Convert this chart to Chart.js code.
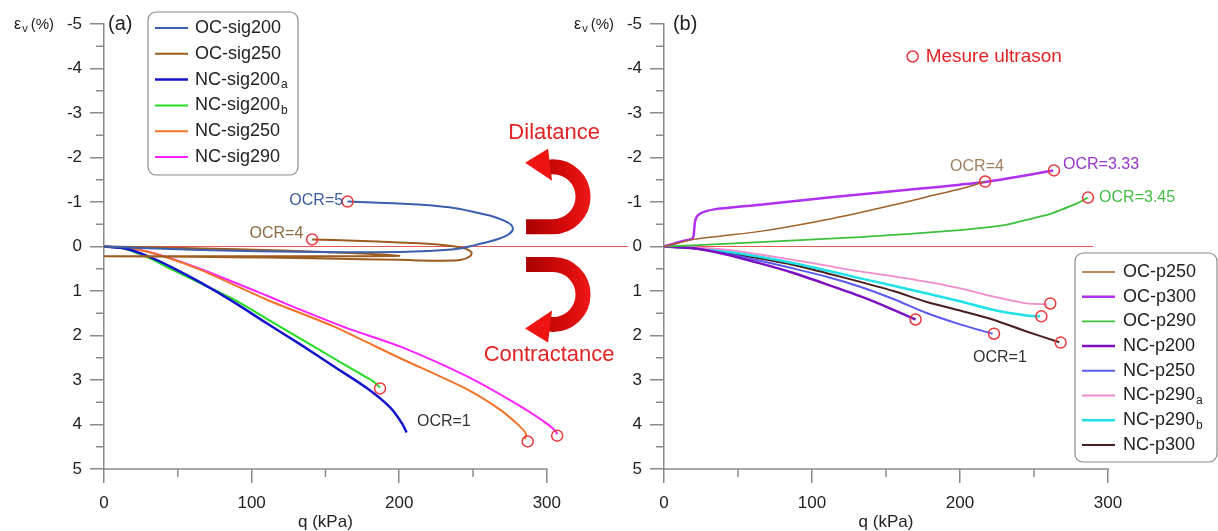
<!DOCTYPE html>
<html>
<head>
<meta charset="utf-8">
<script src="https://cdn.jsdelivr.net/npm/chart.js@4.4.1/dist/chart.umd.min.js"></script>
<style>
  html, body { margin: 0; padding: 0; background: #fff; }
  #wrap { position: relative; width: 1218px; height: 531px; overflow: hidden; }
  canvas { position: absolute; top: 0; }
  #chartA { left: 0; }
  #chartB { left: 560px; }
</style>
</head>
<body>
<div id="wrap">
  <canvas id="chartA" width="660" height="531"></canvas>
  <canvas id="chartB" width="658" height="531"></canvas>
</div>
<script>
// axes
const qTicks = [0, 100, 200, 300];
const qMinor = [50, 150, 250];
const epsTicks = [-5, -4, -3, -2, -1, 0, 1, 2, 3, 4, 5];
const epsMinor = [-4.5, -3.5, -2.5, -1.5, -0.5, 0.5, 1.5, 2.5, 3.5, 4.5];

// panel (a) : [q (kPa), eps_v (%)]
const labelsA = ['OC-sig200', 'OC-sig250', 'NC-sig200_a', 'NC-sig200_b', 'NC-sig250', 'NC-sig290'];
const ocSig200 = [[0,0],[40,0.05],[80,0.09],[130,0.12],[180,0.13],[220,0.1],[240,0.05],[250,-0.02],[260,-0.1],[268,-0.18],[274,-0.27],[277,-0.38],[276,-0.48],[271,-0.58],[264,-0.67],[250,-0.78],[234,-0.88],[215,-0.94],[190,-0.98],[165,-1.01]];
const ocSig250 = [[0,0],[60,0.04],[120,0.09],[170,0.15],[200,0.21],[150,0.22],[80,0.22],[0,0.22],[60,0.23],[110,0.25],[150,0.27],[200,0.3],[230,0.32],[242,0.3],[248,0.22],[249,0.13],[244,0.04],[228,-0.04],[200,-0.09],[170,-0.13],[141,-0.16]];
const ncSig200a = [[0,0],[15,0.05],[30,0.22],[45,0.45],[65,0.8],[88,1.25],[110,1.72],[133,2.2],[155,2.68],[178,3.18],[194,3.62],[202,3.98],[205,4.18]];
const ncSig200b = [[0,0],[15,0.06],[30,0.25],[45,0.5],[65,0.82],[88,1.19],[110,1.62],[133,2.07],[155,2.5],[172,2.83],[182,3.02],[187,3.17]];
const ncSig250 = [[0,0],[20,0.05],[40,0.22],[65,0.52],[110,1.19],[155,1.79],[200,2.5],[246,3.21],[268,3.66],[281,4.02],[286,4.22],[285,4.33]];
const ncSig290 = [[0,0],[20,0.05],[40,0.21],[65,0.5],[110,1.1],[133,1.42],[165,1.84],[200,2.24],[246,2.92],[280,3.55],[300,3.98],[306,4.15],[307,4.22]];
const zeroA = [[0,0],[355,0]];
const ultraA = [[165,-1.01],[141,-0.16],[187,3.19],[287,4.38],[307,4.25]];

// panel (b)
const labelsB = ['OC-p250', 'OC-p300', 'OC-p290', 'NC-p200', 'NC-p250', 'NC-p290_a', 'NC-p290_b', 'NC-p300'];
const ocP250 = [[0,0],[10,-0.08],[20,-0.16],[40,-0.24],[65,-0.34],[100,-0.54],[132,-0.76],[160,-0.97],[178,-1.12],[200,-1.29],[217,-1.46]];
const ocP300 = [[0,0],[8,-0.08],[15,-0.14],[19,-0.17],[20,-0.24],[20.5,-0.42],[21,-0.56],[22,-0.66],[24,-0.73],[28,-0.79],[35,-0.84],[65,-0.94],[100,-1.06],[132,-1.17],[170,-1.29],[200,-1.39],[217,-1.45],[245,-1.6],[263,-1.71]];
const ocP290 = [[0,0],[30,-0.04],[65,-0.1],[132,-0.21],[200,-0.37],[230,-0.48],[245,-0.6],[260,-0.72],[268,-0.82],[279,-0.97],[286.5,-1.1]];
const ncP200 = [[0,0],[20,0.04],[42,0.18],[65,0.38],[87,0.59],[110,0.85],[132,1.11],[150,1.35],[170,1.64]];
const ncP250 = [[0,0],[20,0.04],[42,0.16],[65,0.32],[87,0.49],[110,0.68],[132,0.9],[155,1.18],[177,1.49],[200,1.75],[222,1.96]];
const ncP290a = [[0,0],[20,0.02],[42,0.07],[65,0.18],[87,0.3],[110,0.43],[132,0.56],[155,0.67],[177,0.79],[200,0.94],[222,1.12],[245,1.28],[259,1.3]];
const ncP290b = [[0,0],[20,0.03],[42,0.11],[65,0.23],[87,0.37],[110,0.54],[132,0.71],[155,0.88],[177,1.05],[200,1.23],[222,1.42],[245,1.55],[254,1.57]];
const ncP300 = [[0,0],[20,0.04],[42,0.14],[65,0.27],[87,0.41],[110,0.6],[132,0.79],[155,1.0],[177,1.24],[200,1.44],[222,1.64],[245,1.91],[267,2.15]];
const zeroB = [[0,0],[290,0]];
const ultraB = [[217,-1.46],[263.5,-1.71],[286.5,-1.1],[261,1.28],[255,1.57],[223,1.96],[268,2.16],[170,1.64]];

const FONT = "Arial, 'Liberation Sans', sans-serif";
const AXIS_COLOR = '#8a8a8a';
Chart.defaults.font.family = FONT;

function pts(arr) { return arr.map(p => ({ x: p[0], y: p[1] })); }

function curve(label, arr, color, width) {
  return {
    label: label, data: pts(arr), inLegend: true,
    borderColor: color, backgroundColor: color, borderWidth: width,
    showLine: true, pointRadius: 0, tension: 0.25, clip: false, order: 1
  };
}
function zeroLine(arr) {
  return { label: 'zero', data: pts(arr), borderColor: '#f05555', borderWidth: 1,
    showLine: true, pointRadius: 0, clip: false, order: 10 };
}
function markers(arr) {
  return { label: 'Mesure ultrason', data: pts(arr), showLine: false, pointStyle: 'circle',
    pointRadius: 5.5, pointBorderWidth: 1.5, pointBorderColor: '#e8383c',
    pointBackgroundColor: 'rgba(0,0,0,0)', clip: false, order: -1 };
}

function drawArrow(ctx, cx, cy, r, w, dir) {
  ctx.save();
  ctx.translate(cx, cy);
  ctx.scale(1, dir);
  const g = ctx.createLinearGradient(-28, 0, r + w / 2, 0);
  g.addColorStop(0, '#a80000');
  g.addColorStop(0.6, '#d40a0a');
  g.addColorStop(1, '#f01818');
  ctx.strokeStyle = g;
  ctx.lineWidth = w;
  ctx.lineCap = 'butt';
  ctx.beginPath();
  ctx.moveTo(-27, r);
  ctx.lineTo(0, r);
  ctx.arc(0, 0, r, Math.PI / 2, -Math.PI / 2, true);
  ctx.lineTo(-6, -r + 1);
  ctx.stroke();
  ctx.fillStyle = '#ee1414';
  ctx.beginPath();
  ctx.moveTo(-28, -r - 4);
  ctx.lineTo(-5, -r - 18);
  ctx.lineTo(-1, -r + 14);
  ctx.closePath();
  ctx.fill();
  ctx.restore();
}

const decorPlugin = {
  id: 'decor',
  afterDraw(chart, args, o) {
    const ctx = chart.ctx, xs = chart.scales.x, ys = chart.scales.y;
    const X = v => xs.getPixelForValue(v), Y = v => ys.getPixelForValue(v);
    const qEnd = qTicks[qTicks.length - 1];
    ctx.save();

    // x axis line (stops at the last tick) and minor ticks
    ctx.strokeStyle = AXIS_COLOR;
    ctx.lineWidth = 1.5;
    ctx.beginPath(); ctx.moveTo(X(0), ys.bottom); ctx.lineTo(X(qEnd) + 0.75, ys.bottom); ctx.stroke();
    qMinor.forEach(v => {
      ctx.beginPath(); ctx.moveTo(X(v), ys.bottom); ctx.lineTo(X(v), ys.bottom + 8); ctx.stroke();
    });
    epsMinor.forEach(v => {
      ctx.beginPath(); ctx.moveTo(xs.left, Y(v)); ctx.lineTo(xs.left - 8, Y(v)); ctx.stroke();
    });

    // x title
    ctx.fillStyle = '#222';
    ctx.textBaseline = 'middle';
    ctx.textAlign = 'center';
    ctx.font = '17px ' + FONT;
    ctx.fillText('q (kPa)', X(qEnd / 2), 522);

    // y title  eps_v (%)
    ctx.textAlign = 'left';
    let tx = 14, ty = Y(-5) + 1;
    ctx.font = '16px ' + FONT;
    ctx.fillText('ε', tx, ty);
    tx += ctx.measureText('ε').width + 1;
    ctx.font = '11px ' + FONT;
    ctx.fillText('v', tx, ty + 4);
    tx += ctx.measureText('v').width + 3;
    ctx.font = '15px ' + FONT;
    ctx.fillText('(%)', tx, ty);

    // text annotations
    (o.texts || []).forEach(t => {
      ctx.font = (t.size || 16) + 'px ' + FONT;
      ctx.fillStyle = t.color;
      ctx.textAlign = t.align || 'left';
      ctx.fillText(t.text, X(t.q), Y(t.e));
    });

    // curved arrows
    (o.arrows || []).forEach(a => drawArrow(ctx, X(a.q), Y(a.e), a.r, a.w, a.dir));

    // ultrasound legend item
    if (o.ultraKey) {
      const k = o.ultraKey;
      ctx.strokeStyle = '#e8383c'; ctx.lineWidth = 1.5;
      ctx.beginPath(); ctx.arc(X(k.q), Y(k.e), 5.5, 0, Math.PI * 2); ctx.stroke();
      ctx.font = '19px ' + FONT; ctx.fillStyle = '#e32222'; ctx.textAlign = 'left';
      ctx.fillText(k.text, X(k.q) + 13, Y(k.e));
    }

    // legend box
    const L = o.legend;
    if (L) {
      const r = 8;
      ctx.beginPath();
      ctx.moveTo(L.x + r, L.y);
      ctx.arcTo(L.x + L.w, L.y, L.x + L.w, L.y + L.h, r);
      ctx.arcTo(L.x + L.w, L.y + L.h, L.x, L.y + L.h, r);
      ctx.arcTo(L.x, L.y + L.h, L.x, L.y, r);
      ctx.arcTo(L.x, L.y, L.x + L.w, L.y, r);
      ctx.closePath();
      ctx.fillStyle = '#fff'; ctx.fill();
      ctx.strokeStyle = AXIS_COLOR; ctx.lineWidth = 1.2; ctx.stroke();
      chart.data.datasets.filter(d => d.inLegend).forEach((d, i) => {
        const yy = L.row0 + i * L.step;
        ctx.strokeStyle = d.borderColor; ctx.lineWidth = d.borderWidth;
        ctx.beginPath(); ctx.moveTo(L.lineX0, yy); ctx.lineTo(L.lineX1, yy); ctx.stroke();
        const parts = d.label.split('_');
        ctx.fillStyle = '#222'; ctx.textAlign = 'left';
        ctx.font = '18px ' + FONT;
        ctx.fillText(parts[0], L.textX, yy);
        if (parts[1]) {
          const wMain = ctx.measureText(parts[0]).width;
          ctx.font = '12px ' + FONT;
          ctx.fillText(parts[1], L.textX + wMain + 1, yy + 5);
        }
      });
    }
    ctx.restore();
  }
};

// x runs a little past 300 so the end points past the last tick stay visible
function makeOptions(padRight, decor) {
  return {
    responsive: false,
    animation: false,
    layout: { padding: { left: 0, top: 24, right: padRight, bottom: 0 } },
    plugins: { legend: { display: false }, tooltip: { enabled: false }, decor: decor },
    scales: {
      x: {
        type: 'linear', min: 0, max: 310,
        afterBuildTicks: s => { s.ticks = qTicks.map(v => ({ value: v })); },
        afterFit: s => { s.height = 62; },
        ticks: { padding: 10, color: '#222', font: { size: 17 } },
        grid: { drawOnChartArea: false, drawTicks: true, tickLength: 14, color: AXIS_COLOR, lineWidth: 1.5 },
        border: { display: false }
      },
      y: {
        type: 'linear', reverse: true, min: -5, max: 5,
        afterBuildTicks: s => { s.ticks = epsTicks.map(v => ({ value: v })); },
        afterFit: s => { s.width = 104; },
        ticks: { padding: 8, color: '#222', font: { size: 17 } },
        grid: { drawOnChartArea: false, drawTicks: true, tickLength: 14, color: AXIS_COLOR, lineWidth: 1.5 },
        border: { color: AXIS_COLOR, width: 1.5 }
      }
    }
  };
}

const seriesA = [ocSig200, ocSig250, ncSig200a, ncSig200b, ncSig250, ncSig290];
const colorsA = ['#3a5fad', '#9c5b1f', '#1414cc', '#22dd22', '#f07428', '#ff22ff'];
const widthsA = [2, 2, 2.5, 2, 2, 2];

new Chart(document.getElementById('chartA'), {
  type: 'scatter',
  data: {
    datasets: [markers(ultraA)]
      .concat(seriesA.map((s, i) => curve(labelsA[i], s, colorsA[i], widthsA[i])))
      .concat([zeroLine(zeroA)])
  },
  options: makeOptions(98.4, {
    texts: [
      { text: '(a)', q: 2.7, e: -5, color: '#222', size: 20 },
      { text: 'OCR=5', q: 162, e: -1.03, color: '#3a5ba0', align: 'right' },
      { text: 'OCR=4', q: 135, e: -0.29, color: '#8d6a3f', align: 'right' },
      { text: 'OCR=1', q: 212, e: 3.93, color: '#333' },
      { text: 'Dilatance', q: 305, e: -2.56, color: '#e32222', size: 22, align: 'center' },
      { text: 'Contractance', q: 301.5, e: 2.43, color: '#e32222', size: 22, align: 'center' }
    ],
    arrows: [
      { q: 304.2, e: -1.12, r: 30, w: 15, dir: 1 },
      { q: 304.2, e: 1.08, r: 30, w: 15, dir: -1 }
    ],
    legend: { x: 148, y: 12, w: 150, h: 163, row0: 28, step: 25.8, lineX0: 155, lineX1: 188, textX: 195 }
  }),
  plugins: [decorPlugin]
});

const seriesB = [ocP250, ocP300, ocP290, ncP200, ncP250, ncP290a, ncP290b, ncP300];
const colorsB = ['#a0622a', '#b030f0', '#3cc03c', '#7a10c0', '#5a5af0', '#f08ccc', '#20e0e8', '#4a1e1e'];
const widthsB = [1.5, 2.5, 1.8, 2.5, 2, 1.8, 2.5, 2];

new Chart(document.getElementById('chartB'), {
  type: 'scatter',
  data: {
    datasets: [markers(ultraB)]
      .concat(seriesB.map((s, i) => curve(labelsB[i], s, colorsB[i], widthsB[i])))
      .concat([zeroLine(zeroB)])
  },
  options: makeOptions(95.2, {
    texts: [
      { text: '(b)', q: 6, e: -5, color: '#222', size: 20 },
      { text: 'OCR=4', q: 211.5, e: -1.8, color: '#a08060', align: 'center' },
      { text: 'OCR=3.33', q: 269.6, e: -1.84, color: '#9933cc' },
      { text: 'OCR=3.45', q: 294, e: -1.1, color: '#44bb44' },
      { text: 'OCR=1', q: 208.8, e: 2.49, color: '#333' }
    ],
    ultraKey: { q: 168, e: -4.27, text: 'Mesure ultrason' },
    legend: { x: 515, y: 253, w: 142, h: 209, row0: 272, step: 24.7, lineX0: 522, lineX1: 555, textX: 563 }
  }),
  plugins: [decorPlugin]
});
</script>
</body>
</html>
